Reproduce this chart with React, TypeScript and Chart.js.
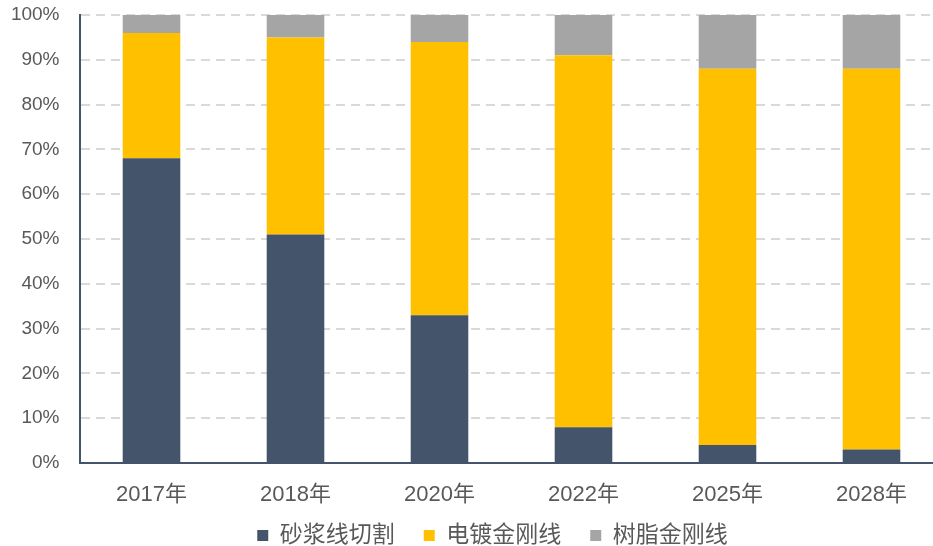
import React, { useEffect, useRef } from "react";
import { Chart, registerables } from "chart.js";

Chart.register(...registerables);

const categories = ["2017年", "2018年", "2020年", "2022年", "2025年", "2028年"];
const slurry = [68, 51, 33, 8, 4, 3];
const electroplated = [28, 44, 61, 83, 84, 85];
const resin = [4, 5, 6, 9, 12, 12];
const seriesNames = ["砂浆线切割", "电镀金刚线", "树脂金刚线"];
const seriesColors = ["#44546A", "#FFC000", "#A5A5A5"];

const FONT = '"Liberation Sans", "Noto Sans CJK SC", sans-serif';

// lets tick labels draw outside their (deliberately narrow) scale boxes
const unclipLabels = {
  id: "unclipLabels",
  afterLayout(chart: any) {
    const y = chart.scales.y;
    const x = chart.scales.x;
    if (y) y.left = 0;
    if (x) x.bottom = chart.height;
  },
};

export default function App() {
  const ref = useRef<HTMLCanvasElement | null>(null);

  useEffect(() => {
    if (!ref.current) return;
    const chart = new Chart(ref.current, {
      type: "bar",
      data: {
        labels: categories,
        datasets: [
          { label: seriesNames[0], data: slurry, backgroundColor: seriesColors[0] },
          { label: seriesNames[1], data: electroplated, backgroundColor: seriesColors[1] },
          { label: seriesNames[2], data: resin, backgroundColor: seriesColors[2] },
        ],
      },
      plugins: [unclipLabels],
      options: {
        animation: false,
        responsive: false,
        devicePixelRatio: 1,
        datasets: { bar: { barPercentage: 0.4, categoryPercentage: 1 } },
        layout: { padding: { left: 41.5, right: 16.5, top: 15, bottom: 3 } },
        plugins: {
          tooltip: { enabled: false },
          legend: {
            position: "bottom",
            labels: {
              boxWidth: 11,
              boxHeight: 11,
              padding: 29,
              color: "#595959",
              font: { family: FONT, size: 23 },
            },
          },
        },
        scales: {
          x: {
            stacked: true,
            grid: { display: false, drawTicks: false },
            border: { display: true, color: "#44546A", width: 2 },
            ticks: { color: "#595959", padding: 19, font: { family: FONT, size: 22 } },
            afterFit: (axis: any) => {
              axis.height = 32;
            },
          },
          y: {
            stacked: true,
            min: 0,
            max: 100,
            grid: { color: "#D9D9D9", lineWidth: 2, drawTicks: false },
            border: { display: true, color: "#44546A", width: 2, dash: [9, 6] },
            ticks: {
              stepSize: 10,
              padding: 20,
              color: "#595959",
              font: { family: FONT, size: 19 },
              callback: (v: any) => v + "%",
            },
            afterFit: (axis: any) => {
              axis.width = 38;
              axis.paddingTop = 0;
              axis.paddingBottom = 0;
            },
          },
        },
      },
    });
    return () => chart.destroy();
  }, []);

  return (
    <div
      style={{
        position: "absolute",
        left: 0,
        top: 0,
        width: 933,
        height: 546,
        overflow: "hidden",
        background: "#fff",
      }}
    >
      <canvas ref={ref} width={960} height={560} style={{ display: "block", width: 960, height: 560 }} />
    </div>
  );
}
